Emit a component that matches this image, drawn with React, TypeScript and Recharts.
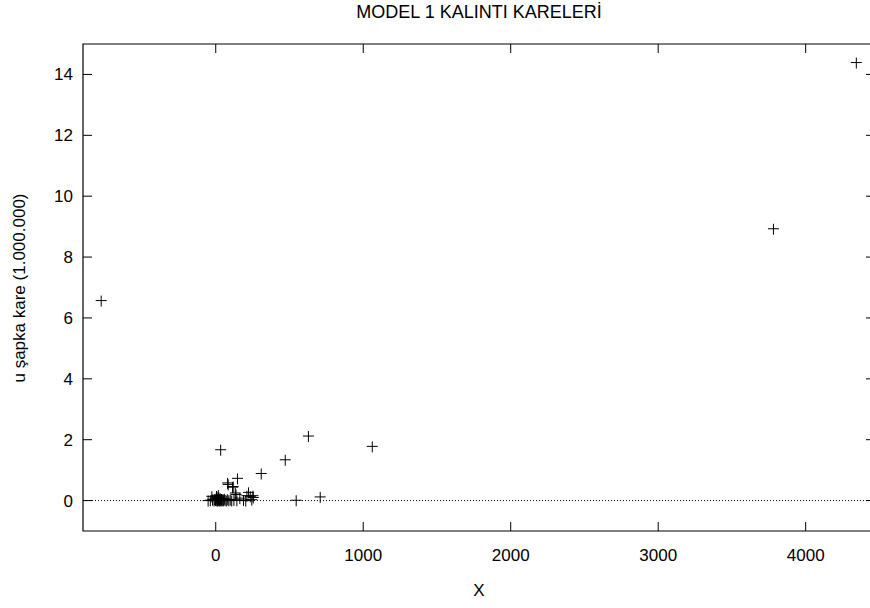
import { ScatterChart, Scatter, XAxis, YAxis, ReferenceLine, ReferenceArea } from 'recharts';

// residual squares (in millions) against X
const xValues = [
  -780, 4340, 3778, 30, 625, 1058, 468, 305, 144, 77, 111, 219, 249, 542, 705,
  134, 251, 129, 185, 241, 81, 115, 208, 231,
  -55, -40, -30, -25, -15, -10, -5, 0, 2, 3, 5, 8, 10, 12, 14, 15, 18, 20, 22, 25, 28,
  30, 33, 36, 40, 45, 50, 55, 60, 68, 75, 85, 95, 105, 120, 140, 160, 200,
];
const yValues = [
  6.57, 14.39, 8.93, 1.67, 2.12, 1.78, 1.34, 0.89, 0.73, 0.58, 0.44, 0.27, 0.16, 0.01, 0.12,
  0.2, 0.1, 0.25, 0.02, 0.03, 0.53, 0.46, 0.16, 0.14,
  0.0, 0.01, 0.14, 0.03, 0.0, 0.05, 0.02, 0.08, 0.15, 0.01, 0.12, 0.03, 0.0, 0.06, 0.18, 0.02, 0.1, 0.01, 0.04, 0.0, 0.07,
  0.02, 0.01, 0.05, 0.0, 0.03, 0.01, 0.06, 0.02, 0.0, 0.04, 0.01, 0.03, 0.0, 0.02, 0.01, 0.08, 0.0,
];
const xTicks = [0, 1000, 2000, 3000, 4000];
const yTicks = [0, 2, 4, 6, 8, 10, 12, 14];
const xDomain: [number, number] = [-900, 4470];
const yDomain: [number, number] = [-1, 15];

const points = xValues.map((x, i) => ({ x, y: yValues[i] }));

const PLOT_LEFT = 83;
const PLOT_RIGHT = 875;
const PLOT_TOP = 44;
const PLOT_BOTTOM = 531;
const TICK = 9;
const FONT = '"Liberation Sans", Arial, sans-serif';

function Plus(props: any) {
  const { cx, cy } = props;
  if (cx == null || cy == null) return null;
  return <path d={`M${cx - 5},${cy}h11M${cx + 0.5},${cy - 5}v11`} stroke="#000" strokeWidth={1} fill="none" />;
}

function XTick(props: any) {
  const { x, payload } = props;
  return (
    <g>
      <line x1={x} x2={x} y1={PLOT_BOTTOM} y2={PLOT_BOTTOM - TICK} stroke="#000" />
      <line x1={x} x2={x} y1={PLOT_TOP} y2={PLOT_TOP + TICK} stroke="#000" />
      <text x={x} y={PLOT_BOTTOM + 30} textAnchor="middle" fontSize={17} fontFamily={FONT} fill="#000">
        {payload.value}
      </text>
    </g>
  );
}

function YTick(props: any) {
  const { y, payload } = props;
  return (
    <g>
      <line x1={PLOT_LEFT} x2={PLOT_LEFT + TICK} y1={y} y2={y} stroke="#000" />
      <line x1={PLOT_RIGHT} x2={PLOT_RIGHT - TICK} y1={y} y2={y} stroke="#000" />
      <text x={PLOT_LEFT - 10} y={y + 6} textAnchor="end" fontSize={17} fontFamily={FONT} fill="#000">
        {payload.value}
      </text>
    </g>
  );
}

export default function App() {
  return (
    <div style={{ position: 'absolute', left: 0, top: 0, width: 870, height: 608, overflow: 'hidden', background: '#fff', fontFamily: FONT }}>
      <ScatterChart
        width={880}
        height={608}
        margin={{ top: PLOT_TOP, right: 880 - PLOT_RIGHT, left: PLOT_LEFT - 60, bottom: 608 - PLOT_BOTTOM - 30 }}
      >
        <XAxis
          type="number"
          dataKey="x"
          domain={xDomain}
          ticks={xTicks}
          allowDataOverflow
          axisLine={false}
          tickLine={false}
          height={30}
          tick={<XTick />}
        />
        <YAxis
          type="number"
          dataKey="y"
          domain={yDomain}
          ticks={yTicks}
          allowDataOverflow
          axisLine={false}
          tickLine={false}
          width={60}
          tick={<YTick />}
        />
        <ReferenceLine y={0} stroke="#000" strokeDasharray="1 2" strokeWidth={1} />
        <ReferenceArea x1={xDomain[0]} x2={xDomain[1]} y1={yDomain[0]} y2={yDomain[1]} fill="none" stroke="#000" strokeWidth={1.2} />
        <Scatter data={points} shape={<Plus />} isAnimationActive={false} />
      </ScatterChart>
      <div style={{ position: 'absolute', left: 0, width: 958, top: 0, textAlign: 'center', fontSize: 18, lineHeight: '24px' }}>
        MODEL 1 KALINTI KARELERİ
      </div>
      <div style={{ position: 'absolute', left: 0, width: 958, top: 579, textAlign: 'center', fontSize: 17, lineHeight: '24px' }}>
        X
      </div>
      <div
        style={{
          position: 'absolute',
          left: 20,
          top: 288,
          fontSize: 17,
          lineHeight: '20px',
          whiteSpace: 'nowrap',
          transform: 'translate(-50%, -50%) rotate(-90deg)',
        }}
      >
        u şapka kare (1.000.000)
      </div>
    </div>
  );
}
